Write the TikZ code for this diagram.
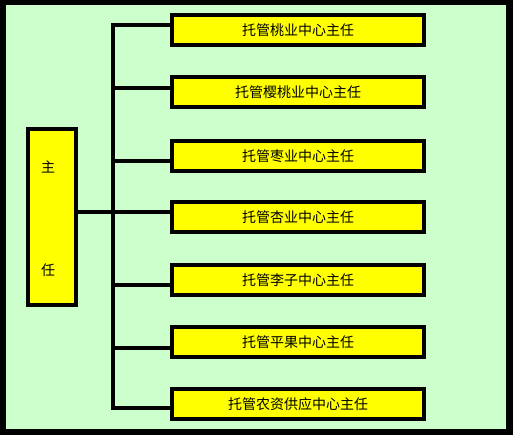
\documentclass[tikz,border=0pt]{standalone}
\usepackage{fontspec}
\setmainfont{Noto Sans CJK SC}
\definecolor{bggreen}{HTML}{CCFFCC}
\definecolor{boxyellow}{HTML}{FFFF00}
\begin{document}
\begin{tikzpicture}[x=1pt,y=-1pt,
  ybox/.style={draw=black,line width=4pt,fill=boxyellow,minimum width=252pt,minimum height=30pt,inner sep=0pt,font=\fontsize{14pt}{16pt}\selectfont},
  conn/.style={draw=black,line width=3.5pt}]
\useasboundingbox (0,0) rectangle (513,435);
\fill[black] (0,0) rectangle (513,435);
\fill[bggreen] (5.5,5.5) rectangle (506,429);
\node[draw=black,line width=4pt,fill=boxyellow,minimum width=48pt,minimum height=176pt,inner sep=0pt] (L) at (52,217) {};
\node[font=\fontsize{14pt}{16pt}\selectfont] (Lt1) at (48,167) {主};
\node[font=\fontsize{14pt}{16pt}\selectfont] (Lt2) at (48,270) {任};
\node[ybox] (b1) at (298,30) {托管桃业中心主任};
\node[ybox] (b2) at (298,92) {托管樱桃业中心主任};
\node[ybox] (b3) at (298,156) {托管枣业中心主任};
\node[ybox] (b4) at (298,217) {托管杏业中心主任};
\node[ybox] (b5) at (298,280) {托管李子中心主任};
\node[ybox] (b6) at (298,342) {托管平果中心主任};
\node[ybox] (b7) at (298,404) {托管农资供应中心主任};
\coordinate (j1) at (113,25);
\coordinate (j2) at (113,88);
\coordinate (j3) at (113,161);
\coordinate (j4) at (113,212);
\coordinate (j5) at (113,285);
\coordinate (j6) at (113,348);
\coordinate (j7) at (113,408);
\draw[conn,line cap=rect] (j1) -- (j7);
\foreach \i in {1,...,7} {\draw[conn] (j\i) -- (b\i.west |- j\i);}
\draw[conn] (L.east |- j4) -- (j4);
\end{tikzpicture}
\end{document}
